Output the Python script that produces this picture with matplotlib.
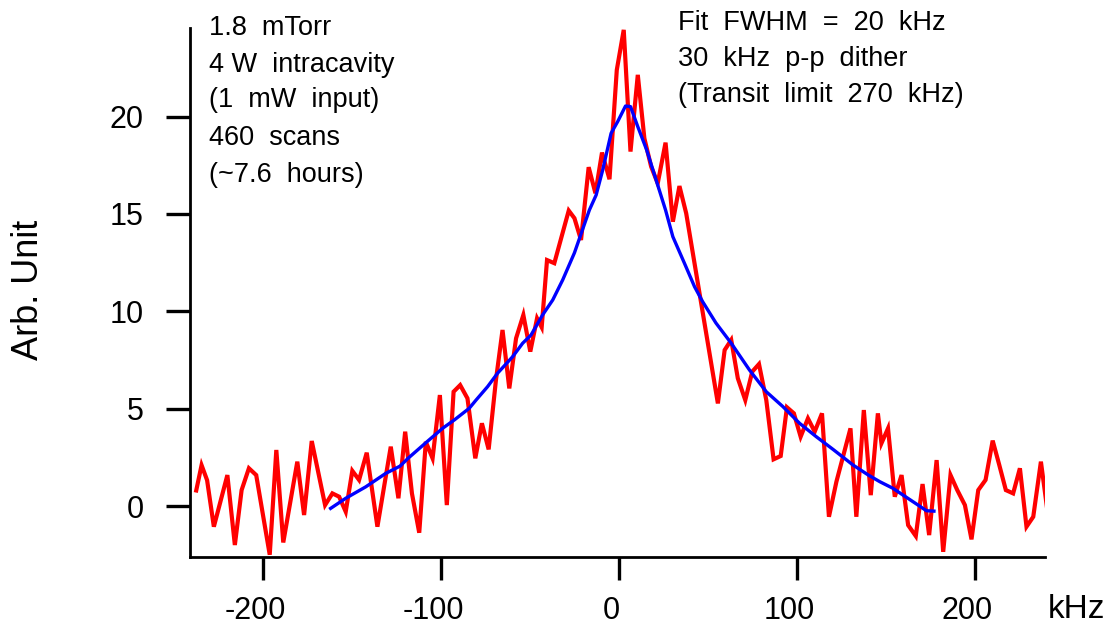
import matplotlib
matplotlib.use("Agg")
import matplotlib.pyplot as plt
import matplotlib.transforms as mtransforms

plt.rcParams['font.family'] = ['Liberation Sans', 'DejaVu Sans']
plt.rcParams['axes.unicode_minus'] = False

# Measured signal (red)
data_khz = [-237.5, -234.5, -231.4, -227.6, -220.0, -215.8, -212.0, -207.9, -203.8,
            -196.2, -192.5, -188.6, -180.7, -176.9, -172.6, -165.1, -161.0, -157.2,
            -153.5, -149.8, -146.0, -141.7, -135.7, -128.2, -123.9, -120.1, -116.3,
            -112.2, -108.5, -104.7, -100.6, -96.7, -92.9, -89.2, -85.1, -80.7, -77.0,
            -73.2, -69.1, -65.4, -61.6, -57.8, -53.7, -49.8, -46.0, -43.4, -40.4,
            -36.3, -28.2, -25.0, -21.3, -17.0, -13.2, -9.5, -5.3, -1.2, 2.7, 6.5,
            10.6, 14.3, 18.1, 21.8, 26.2, 30.3, 34.0, 37.8, 55.6, 59.4, 63.1, 66.8,
            71.0, 74.9, 78.7, 82.8, 86.9, 90.9, 94.4, 98.3, 102.1, 106.2, 110.0,
            114.1, 118.0, 122.2, 130.1, 133.4, 137.6, 141.5, 145.5, 147.5, 151.2,
            155.0, 158.8, 162.5, 166.8, 170.6, 174.3, 178.5, 182.2, 186.3, 190.1,
            194.4, 198.1, 201.9, 206.0, 210.0, 213.7, 217.4, 221.5, 225.3, 229.0,
            232.8, 237.1, 241.2]
data_signal = [0.80, 2.10, 1.33, -1.06, 1.59, -2.00, 0.82, 1.94, 1.59,
               -2.50, 2.88, -1.87, 2.28, -0.46, 3.34, 0.05, 0.65, 0.48,
               -0.29, 1.81, 1.34, 2.74, -1.06, 3.05, 0.40, 3.82, 0.65,
               -1.37, 3.30, 2.45, 5.70, 0.05, 5.87, 6.21, 5.53, 2.45, 4.25,
               2.91, 6.47, 9.04, 6.04, 8.61, 9.81, 7.93, 9.64, 9.18, 12.63,
               12.47, 15.17, 14.78, 13.66, 17.40, 16.06, 18.15, 16.78, 22.39, 24.45, 18.20,
               22.14, 18.88, 17.43, 16.57, 18.66, 14.60, 16.43, 15.03, 5.27, 8.01, 8.53, 6.56,
               5.44, 6.90, 7.29, 5.44, 2.40, 2.57, 5.07, 4.76, 3.56, 4.50, 3.82,
               4.76, -0.55, 1.25, 3.99, -0.55, 4.93, 0.56, 4.76, 3.22, 3.99,
               0.48, 1.59, -0.98, -1.54, 1.13, -1.49, 2.36, -2.35, 1.59, 0.82,
               0.05, -1.71, 0.82, 1.34, 3.36, 2.11, 0.82, 0.65, 1.94, -1.06,
               -0.55, 2.28, -0.55]

# Fit (blue)
fit_khz = [-162.0, -153.5, -142.2, -131.0, -123.0, -118.5, -108.5, -99.1, -92.5,
           -84.1, -80.3, -73.8, -68.2, -59.7, -54.1, -49.4, -42.9, -37.2, -31.6,
           -25.0, -16.6, -12.8, -9.1, -4.4, -0.7, 3.7, 6.5, 10.6, 15.6, 20.9, 26.2,
           30.3, 36.8, 42.5, 47.0, 54.5, 63.1, 73.4, 82.8, 92.2, 101.5, 110.9, 120.3,
           131.5, 140.0, 146.6, 154.0, 159.7, 168.1, 172.8, 177.0]
fit_signal = [-0.12, 0.40, 0.99, 1.68, 2.05, 2.45, 3.25, 3.99, 4.42,
              5.02, 5.44, 6.13, 6.82, 7.67, 8.36, 8.78, 9.81, 10.58, 11.61,
              13.00, 15.20, 15.97, 17.26, 19.14, 19.74, 20.54, 20.51, 19.48, 18.28, 16.74, 15.20,
              13.83, 12.47, 11.26, 10.50, 9.40, 8.36, 6.98, 5.87, 5.10, 4.25, 3.56, 2.91,
              2.11, 1.60, 1.25, 0.91, 0.56, 0.05, -0.24, -0.26]

x_ticks = [-200, -100, 0, 100, 200]
y_ticks = [0, 5, 10, 15, 20]

left_notes = ["1.8  mTorr", "4 W  intracavity", "(1  mW  input)", "460  scans", "(~7.6  hours)"]
right_notes = ["Fit  FWHM  =  20  kHz", "30  kHz  p-p  dither", "(Transit  limit  270  kHz)"]

W, H = 1117, 629
fig = plt.figure(figsize=(W / 100, H / 100), dpi=100)
ax = fig.add_axes([190 / W, 1 - 556.7 / H, (1045 - 190) / W, (556.7 - 28.3) / H])

ax.plot(data_khz, data_signal, color='#ff0000', lw=3.0, solid_joinstyle='miter', zorder=2)
ax.plot(fit_khz, fit_signal, color='#0000ff', lw=2.4, zorder=3)

ax.set_xlim(-241, 239.4)
ax.set_ylim(-2.6, 24.53)
ax.set_xticks(x_ticks)
ax.set_yticks(y_ticks)
for s in ['top', 'right']:
    ax.spines[s].set_visible(False)
for s in ['left', 'bottom']:
    ax.spines[s].set_linewidth(2.0)
ax.tick_params(axis='x', direction='out', length=16.6, width=2.4, pad=11.5, labelsize=22)
ax.tick_params(axis='y', direction='out', length=17, width=2.4, pad=16.5, labelsize=22)

offset = mtransforms.ScaledTranslation(-8 / 100, 0, fig.dpi_scale_trans)
for lab in ax.get_xticklabels():
    lab.set_transform(lab.get_transform() + offset)

fig.text(28 / W, 1 - 290 / H, "Arb. Unit", rotation=90, ha='center', va='center', fontsize=26)
fig.text(1048 / W, 1 - 609 / H, "kHz", ha='left', va='center', fontsize=24)

left_base = [35, 72, 107, 145, 182]
for t, b in zip(left_notes, left_base):
    fig.text(209 / W, 1 - b / H, t, ha='left', va='baseline', fontsize=19.5)

right_base = [30, 66, 102]
for t, b in zip(right_notes, right_base):
    fig.text(678 / W, 1 - b / H, t, ha='left', va='baseline', fontsize=19.5)

fig.savefig("out.png", dpi=100)
